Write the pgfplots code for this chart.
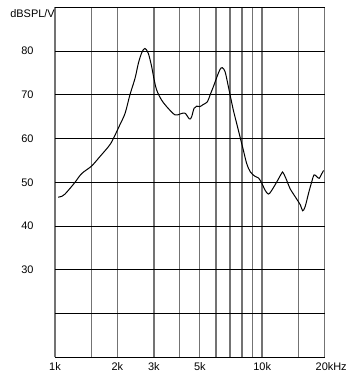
\documentclass[border=0pt]{standalone}
\usepackage{pgfplots}
\pgfplotsset{compat=1.18}
\usepackage{fontspec}
\setmainfont{Liberation Sans}
\begin{document}
\begin{tikzpicture}[x=1bp,y=1bp]
\useasboundingbox (0,0) rectangle (358,377);
\begin{axis}[
  at={(55bp,19.7bp)}, anchor=south west,
  scale only axis, width=269.5bp, height=350bp,
  xmode=log, xmin=1, xmax=20, ymin=10, ymax=90,
  axis line style={draw=none},
  xtick={1,1.5,2,3,4,5,6,7,8,9,10,15,20},
  xticklabels={1k,,2k,3k,,5k,,,,,10k,,20k\rlap{Hz}},
  ytick={10,20,30,40,50,60,70,80,90},
  yticklabels={,,30,40,50,60,70,80,},
  major tick length=0pt,
  xmajorgrids, ymajorgrids,
  x grid style={black!55, line width=1.4bp},
  y grid style={black, line width=1.05bp},
  tick label style={font=\fontsize{11}{12}\selectfont},
  yticklabel style={anchor=east, xshift=-18bp},
  xticklabel style={yshift=-1.5bp},
  clip=false,
]
\addplot[black, line width=1bp, smooth, tension=0.55] coordinates {
(1.035,46.6) (1.08,46.8) (1.117,47.3) (1.181,48.6) (1.249,50.0) (1.346,52.0)
(1.50,53.7) (1.649,55.9) (1.842,58.6) (1.95,60.8) (2.05,63.0) (2.18,65.8)
(2.30,70.0) (2.435,73.8) (2.526,77.2) (2.622,79.6) (2.717,80.6)
(2.82,79.5) (2.93,76.4) (3.0,73.8) (3.096,71.1) (3.27,68.8) (3.52,66.9)
(3.80,65.4) (4.01,65.6) (4.24,65.8) (4.45,64.5) (4.56,64.9) (4.69,66.9)
(4.83,67.4) (5.01,67.3) (5.20,67.8) (5.44,68.4) (5.61,70.0) (5.82,71.9)
(6.05,74.1) (6.26,75.8) (6.42,76.2) (6.62,75.3) (6.82,72.6) (7.00,70.0)
(7.26,66.5) (7.53,63.5) (7.82,60.4) (8.11,57.4) (8.42,54.3) (8.76,52.4)
(9.22,51.4) (9.6,51.0) (9.96,49.8) (10.33,48.2) (10.72,47.3) (11.1,48.1)
(11.77,50.1) (12.43,52.1) (12.62,52.2) (13.13,50.5) (13.62,48.6) (14.44,46.7)
(15.3,44.8) (15.68,43.5) (16.12,44.4) (16.75,47.5) (17.35,50.1) (17.8,51.7)
(18.33,51.3) (18.85,50.9) (19.27,51.7) (19.8,52.7)
};
\end{axis}
\node[anchor=east, inner sep=0pt, font=\fontsize{11}{12}\selectfont] at (55,363) {dBSPL/V};
\end{tikzpicture}
\end{document}
